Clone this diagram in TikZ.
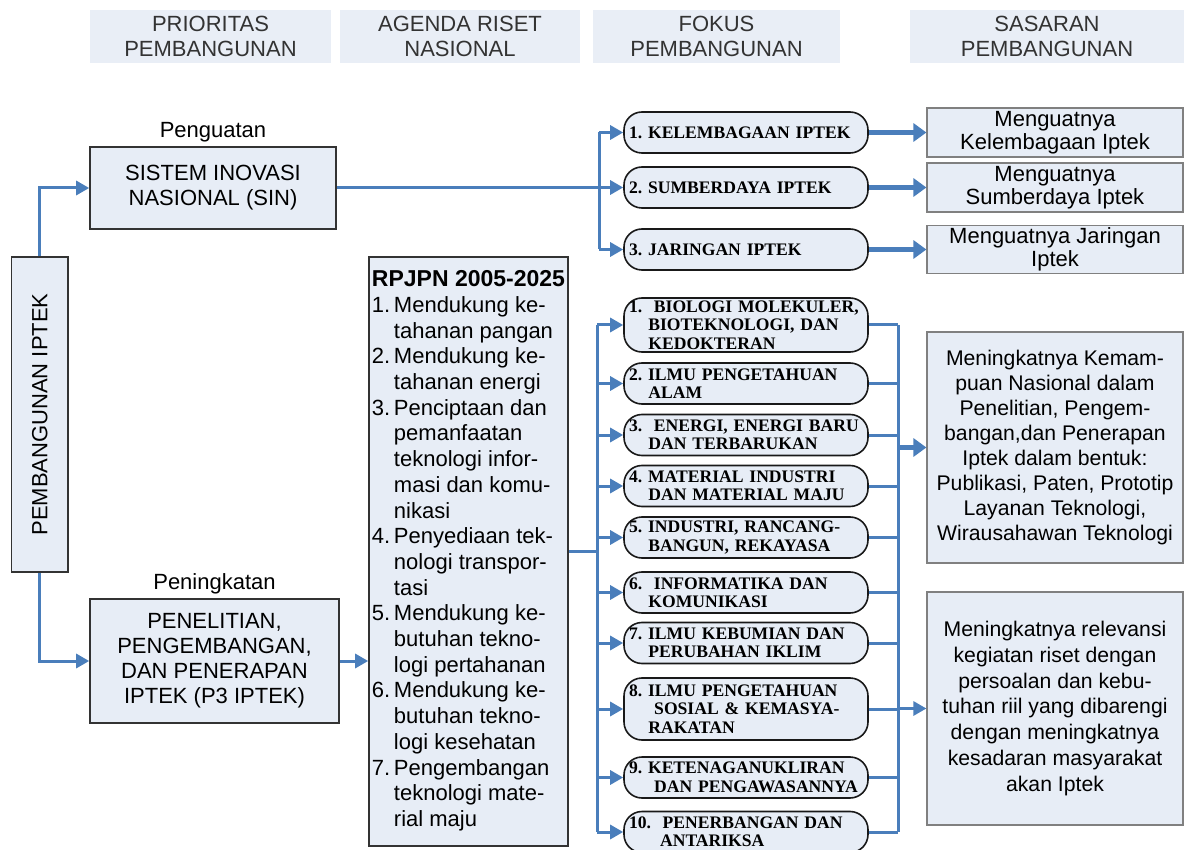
\documentclass[tikz,border=0pt]{standalone}
\usepackage{fontspec}
\setmainfont{Liberation Sans}
\newfontfamily\pillfont{Liberation Serif}
\usetikzlibrary{positioning,arrows.meta}
\definecolor{boxfill}{HTML}{E7EDF6}
\definecolor{hdrfill}{HTML}{E9EEF6}
\definecolor{lineblue}{HTML}{4A7EBB}
\definecolor{hdrtext}{HTML}{333333}
\newcommand{\ind}{\hspace*{1.1em}}
\frenchspacing

\begin{document}
\begin{tikzpicture}[x=0.5pt,y=-0.5pt,
  hdr/.style={fill=hdrfill,text=hdrtext,align=center,minimum height=26.5pt,inner sep=0pt,font=\fontsize{11}{12.5}\selectfont},
  box/.style={draw=black!80,fill=boxfill,line width=0.8pt,align=center,inner sep=1pt,font=\fontsize{11}{12.5}\selectfont},
  goal/.style={draw=black!50,fill=boxfill,line width=0.6pt,align=center,inner sep=0.5pt,minimum width=128pt,font=\fontsize{11}{11.5}\selectfont},
  pill/.style={draw=black!90,fill=boxfill,line width=0.8pt,rounded corners=9pt,text width=117pt,inner xsep=2.5pt,inner ysep=1pt,minimum height=20.5pt,align=left,font=\pillfont\bfseries\fontsize{8.8}{9.2}\selectfont},
  link/.style={draw=lineblue,line width=1.5pt},
  arr/.style={link,-{Triangle[length=6.5pt,width=7pt]}},
  bigarr/.style={draw=lineblue,line width=2.5pt,-{Triangle[length=6.5pt,width=9pt]}}]
\useasboundingbox (0,0) rectangle (1184,850);

\node[hdr,minimum width=120.5pt] (h1) at (210.5,36.5) {PRIORITAS\\PEMBANGUNAN};
\node[hdr,minimum width=120pt] (h2) at (460,36.5) {AGENDA RISET\\NASIONAL};
\node[hdr,minimum width=123.5pt] (h3) at (716.5,36.5) {FOKUS\\PEMBANGUNAN};
\node[hdr,minimum width=137pt] (h4) at (1047,36.5) {SASARAN\\PEMBANGUNAN};

\node[box,rotate=90,minimum width=157.5pt,minimum height=28.25pt] (pi) at (39.75,414.5) {PEMBANGUNAN IPTEK};
\node[box,minimum width=123pt,minimum height=41pt] (sin) at (213,188) {SISTEM INOVASI\\NASIONAL (SIN)};
\node[above=1pt of sin,inner sep=1pt,font=\fontsize{11}{12.5}\selectfont] (lsin) {Penguatan};
\node[box,minimum width=124.5pt,minimum height=62pt] (p3) at (214.5,661) {PENELITIAN,\\PENGEMBANGAN,\\DAN PENERAPAN\\IPTEK (P3 IPTEK)};
\node[above=1pt of p3,inner sep=1pt,font=\fontsize{11}{12.5}\selectfont] (lp3) {Peningkatan};

\node[box,minimum width=99.5pt,minimum height=294.5pt,font=\fontsize{11}{12.85}\selectfont] (rpjpn) at (468.5,551.5) {%
\begin{tabular}{@{}l@{\,}l@{}}
\multicolumn{2}{@{}l@{}}{\fontsize{11.5}{12.85}\selectfont\bfseries RPJPN 2005-2025}\\
1. & Mendukung ke-\\ & tahanan pangan\\
2. & Mendukung ke-\\ & tahanan energi\\
3. & Penciptaan dan\\ & pemanfaatan\\ & teknologi infor-\\ & masi dan komu-\\ & nikasi\\
4. & Penyediaan tek-\\ & nologi transpor-\\ & tasi\\
5. & Mendukung ke-\\ & butuhan tekno-\\ & logi pertahanan\\
6. & Mendukung ke-\\ & butuhan tekno-\\ & logi kesehatan\\
7. & Pengembangan\\ & teknologi mate-\\ & rial maju
\end{tabular}};

\node[pill] (k1) at (746,132.5) {1. KELEMBAGAAN IPTEK};
\node[pill] (k2) at (746,187.5) {2. SUMBERDAYA IPTEK};
\node[pill] (k3) at (746,249.5) {3. JARINGAN IPTEK};

\node[goal,minimum height=24.5pt] (s1) at (1055,132.5) {Menguatnya\\Kelembagaan Iptek};
\node[goal,minimum height=24.5pt] (s2) at (1055,187.5) {Menguatnya\\Sumberdaya Iptek};
\node[goal,minimum height=24pt] (s3) at (1055,249.5) {Menguatnya Jaringan\\Iptek};

\node[pill,minimum height=27pt] (f1) at (746,325) {1.\ \ BIOLOGI MOLEKULER,\\\ind BIOTEKNOLOGI, DAN\\\ind KEDOKTERAN};
\node[pill] (f2) at (746,383.5) {2.\ ILMU PENGETAHUAN\\\ind ALAM};
\node[pill] (f3) at (746,435) {3.\ \ ENERGI, ENERGI BARU\\\ind DAN TERBARUKAN};
\node[pill] (f4) at (746,486) {4. MATERIAL INDUSTRI\\\ind DAN MATERIAL MAJU};
\node[pill] (f5) at (746,537.5) {5. INDUSTRI, RANCANG-\\\ind BANGUN, REKAYASA};
\node[pill] (f6) at (746,592.5) {6.\ \ INFORMATIKA DAN\\\ind KOMUNIKASI};
\node[pill] (f7) at (746,643) {7.\ ILMU KEBUMIAN DAN\\\ind PERUBAHAN IKLIM};
\node[pill,minimum height=31pt] (f8) at (746,709) {8. ILMU PENGETAHUAN\\\ind\ SOSIAL \& KEMASYA-\\\ind RAKATAN};
\node[pill] (f9) at (746,777.5) {9. KETENAGANUKLIRAN\\\ind\ DAN PENGAWASANNYA};
\node[pill] (f10) at (746,832) {10.\ \ PENERBANGAN DAN\\\ind\ \ ANTARIKSA};

\node[goal,inner xsep=1pt,minimum height=115.5pt,font=\fontsize{10.6}{12.5}\selectfont] (kem) at (1055,447.5) {Meningkatnya Kemam-\\puan Nasional dalam\\Penelitian, Pengem-\\bangan,dan Penerapan\\Iptek dalam bentuk:\\Publikasi, Paten, Prototip\\Layanan Teknologi,\\Wirausahawan Teknologi};
\node[goal,inner xsep=1pt,minimum height=116.5pt,font=\fontsize{10.6}{12.85}\selectfont] (rel) at (1055,708.5) {Meningkatnya relevansi\\kegiatan riset dengan\\persoalan dan kebu-\\tuhan riil yang dibarengi\\dengan meningkatnya\\kesadaran masyarakat\\akan Iptek};

\coordinate (busa) at (599,0);
\coordinate (busl) at (597,0);
\coordinate (busr) at (898,0);

\draw[arr] (pi.east) |- (sin.west);
\draw[arr] (pi.west) |- (p3.west);
\draw[arr] (p3.east) -- (rpjpn.west |- p3.east);

\draw[link] (sin.east) -- (busa |- sin.east);
\draw[link] (busa |- k1) -- (busa |- k3);
\foreach \i in {1,2,3} {
  \draw[arr] (busa |- k\i) -- (k\i.west);
  \draw[bigarr] (k\i.east) -- (s\i.west);
}

\draw[link] (rpjpn.east) -- (busl |- rpjpn.east);
\draw[link] (busl |- f1) -- (busl |- f10);
\draw[link] (busr |- f1) -- (busr |- f10);
\foreach \i in {1,...,10} {
  \draw[arr] (busl |- f\i) -- (f\i.west);
  \draw[link] (f\i.east) -- (busr |- f\i);
}
\draw[bigarr] (busr |- kem.west) -- (kem.west);
\draw[arr] (busr |- rel.west) -- (rel.west);
\end{tikzpicture}
\end{document}
